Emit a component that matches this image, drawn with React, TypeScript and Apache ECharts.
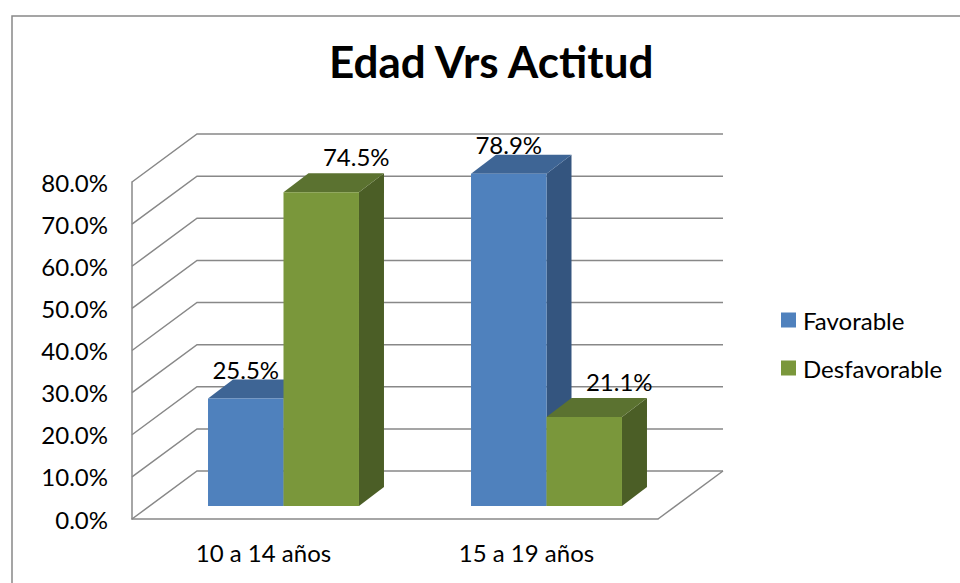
import React, { useEffect, useRef } from "react";
import * as echarts from "echarts";

const categories = ["10 a 14 años", "15 a 19 años"];
const favorable = [25.5, 78.9];
const desfavorable = [74.5, 21.1];
const yTicks = [0, 10, 20, 30, 40, 50, 60, 70, 80];
const seriesNames = ["Favorable", "Desfavorable"];

const FONT = "Lato, 'Noto Sans', sans-serif";
const GRAY = "#888888";
// oblique projection offsets
const WALL_DX = 65;
const WALL_DY = -48;
const BAR_FRONT_DX = 20;
const BAR_FRONT_DY = -13;
const BAR_DEPTH_DX = 25;
const BAR_DEPTH_DY = -19;
const BAR_FRAC = 0.287;
const SMALL = 24;

const palette = [
  { front: "#4F81BD", top: "#3E6595", side: "#34557F", labelDx: 0, labelDy: 2 },
  { front: "#7A973B", top: "#5B7230", side: "#4B5E26", labelDx: 35, labelDy: -5 },
];

function barRenderer(sIdx: number) {
  return (params: any, api: any) => {
    const cat = api.value(0);
    const val = api.value(1);
    const base = api.coord([cat, 0]);
    const top = api.coord([cat, val]);
    const band = api.size([1, 0])[0];
    const w = band * BAR_FRAC;
    const x0 = base[0] - w + sIdx * w + BAR_FRONT_DX;
    const x1 = x0 + w;
    const yb = base[1] + BAR_FRONT_DY;
    const yt = top[1] + BAR_FRONT_DY;
    const c = palette[sIdx];
    return {
      type: "group",
      children: [
        {
          type: "polygon",
          shape: {
            points: [
              [x1, yb],
              [x1 + BAR_DEPTH_DX, yb + BAR_DEPTH_DY],
              [x1 + BAR_DEPTH_DX, yt + BAR_DEPTH_DY],
              [x1, yt],
            ],
          },
          style: { fill: c.side },
        },
        {
          type: "polygon",
          shape: {
            points: [
              [x0, yt],
              [x0 + BAR_DEPTH_DX, yt + BAR_DEPTH_DY],
              [x1 + BAR_DEPTH_DX, yt + BAR_DEPTH_DY],
              [x1, yt],
            ],
          },
          style: { fill: c.top },
        },
        {
          type: "rect",
          shape: { x: x0, y: yt, width: w, height: yb - yt },
          style: { fill: c.front },
        },
        {
          type: "text",
          x: (x0 + x1) / 2 + c.labelDx,
          y: yt + BAR_DEPTH_DY + c.labelDy,
          style: {
            text: val.toFixed(1) + "%",
            align: "center",
            verticalAlign: "bottom",
            fontFamily: FONT,
            fontSize: SMALL,
            fill: "#000",
          },
        },
      ],
    };
  };
}

function wallRenderer(params: any, api: any) {
  const cs = params.coordSys;
  const v = api.value(1);
  const p = api.coord([0, v]);
  const y = p[1];
  const xl = cs.x;
  const xr = cs.x + cs.width;
  const children: any[] = [
    {
      type: "polyline",
      shape: {
        points: [
          [xl, y],
          [xl + WALL_DX, y + WALL_DY],
          [xr + WALL_DX, y + WALL_DY],
        ],
      },
      style: { stroke: GRAY, lineWidth: 1.5, fill: "none" },
    },
  ];
  if (v === 0) {
    children.push({
      type: "line",
      shape: { x1: xr, y1: y, x2: xr + WALL_DX, y2: y + WALL_DY },
      style: { stroke: GRAY, lineWidth: 1.5 },
    });
  }
  return { type: "group", children };
}

export default function App() {
  const ref = useRef<HTMLDivElement>(null);
  useEffect(() => {
    if (!ref.current) return;
    const chart = echarts.init(ref.current, null, { renderer: "svg" });
    chart.setOption({
      animation: false,
      backgroundColor: "#ffffff",
      textStyle: { fontFamily: FONT },
      graphic: [
        {
          type: "rect",
          shape: { x: 12, y: 16, width: 1000, height: 1000 },
          style: { fill: "none", stroke: GRAY, lineWidth: 1.5 },
          silent: true,
          z: -10,
        },
      ],
      title: {
        text: "Edad Vrs Actitud",
        left: 329,
        top: 39,
        padding: 0,
        textStyle: { fontFamily: FONT, fontSize: 44, fontWeight: "bold", color: "#000" },
      },
      legend: {
        data: seriesNames,
        orient: "vertical",
        left: 781,
        top: 308,
        padding: 0,
        itemWidth: 15,
        itemHeight: 15,
        itemGap: 24,
        icon: "rect",
        textStyle: { fontFamily: FONT, fontSize: SMALL, color: "#000", lineHeight: 24, padding: [0, 0, 0, 2] },
      },
      grid: { left: 132, right: 302, top: 182, bottom: 64, outerBoundsMode: "none" },
      xAxis: {
        type: "category",
        data: categories,
        axisLine: { show: true, lineStyle: { color: GRAY, width: 1.5 } },
        axisTick: { show: false },
        axisLabel: { fontFamily: FONT, fontSize: SMALL, color: "#000", margin: 21 },
        splitLine: { show: false },
      },
      yAxis: {
        type: "value",
        min: 0,
        max: 80,
        interval: 10,
        axisLine: { show: true, lineStyle: { color: GRAY, width: 1.5 } },
        axisTick: { show: false },
        splitLine: { show: false },
        axisLabel: {
          fontFamily: FONT,
          fontSize: SMALL,
          color: "#000",
          margin: 24,
          formatter: (v: number) => v.toFixed(1) + "%",
        },
      },
      series: [
        {
          type: "custom",
          name: "walls",
          silent: true,
          z: 1,
          renderItem: wallRenderer,
          data: yTicks.map((t) => [0, t]),
          encode: { x: 0, y: 1 },
        },
        {
          type: "custom",
          name: seriesNames[0],
          z: 2,
          itemStyle: { color: palette[0].front },
          renderItem: barRenderer(0),
          data: favorable.map((v, i) => [i, v]),
          encode: { x: 0, y: 1 },
        },
        {
          type: "custom",
          name: seriesNames[1],
          z: 3,
          itemStyle: { color: palette[1].front },
          renderItem: barRenderer(1),
          data: desfavorable.map((v, i) => [i, v]),
          encode: { x: 0, y: 1 },
        },
      ],
    });
    return () => chart.dispose();
  }, []);
  return (
    <div
      ref={ref}
      style={{ position: "absolute", left: 0, top: 0, width: 960, height: 583 }}
    />
  );
}
